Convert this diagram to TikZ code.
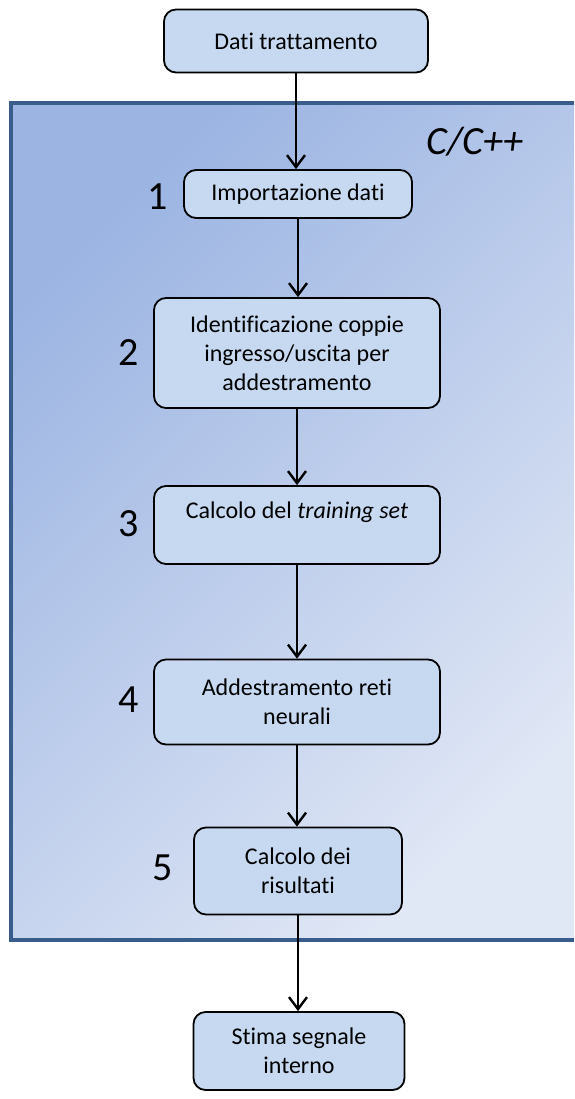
\documentclass[tikz,border=0pt]{standalone}
\usepackage{fontspec}
\setmainfont[Ligatures=NoCommon]{Carlito}
\usetikzlibrary{arrows.meta}

\definecolor{boxfill}{RGB}{198,217,241}
\definecolor{panelborder}{RGB}{56,93,138}
\definecolor{paneldark}{RGB}{155,180,226}
\definecolor{panellight}{RGB}{224,231,245}

\tikzset{
  fase/.style={draw=black, line width=1.8pt, rounded corners=12pt, fill=boxfill,
               align=center, inner sep=0pt, font=\fontsize{24}{29}\selectfont},
  numfase/.style={font=\fontsize{40}{42}\selectfont},
  flusso/.style={->, line width=2.4pt,
                 >={Straight Barb[length=12pt,width=18pt,line width=2.4pt]}},
}

\begin{document}
\begin{tikzpicture}[x=1pt,y=-1pt]
\useasboundingbox (0,0) rectangle (574,1099);

% C/C++ panel, open on the right
\fill[top color=paneldark, bottom color=panellight, shading angle=45]
    (11,103) rectangle (574,940);
\draw[panelborder, line width=4pt]
    (574,103) -- (11,103) -- (11,940) -- (574,940);
\node [font=\fontsize{40}{42}\selectfont\itshape] (lang) at (475,142) {C/C++};

% phases
\node [fase, minimum width=264, minimum height=63] (dati)   at (296, 41) {Dati trattamento};
\node [fase, minimum width=228, minimum height=48] (import) at (298,194) {Importazione dati};
\node [fase, minimum width=286, minimum height=110] (coppie) at (297,353)
    {Identificazione coppie\\ingresso/uscita per\\addestramento};
\node [fase, minimum width=286, minimum height=78] (tset)   at (297,525)
    {Calcolo del \textit{training set}\\ \mbox{}};
\node [fase, minimum width=286, minimum height=85] (addestr) at (297,702) {Addestramento reti\\neurali};
\node [fase, minimum width=208, minimum height=87] (risult) at (298,871) {Calcolo dei\\risultati};
\node [fase, minimum width=211, minimum height=78] (stima)  at (299,1051) {Stima segnale\\interno};

% phase numbers
\node [numfase] (n1) at (158,197) {1};
\node [numfase] (n2) at (129,353) {2};
\node [numfase] (n3) at (129,524) {3};
\node [numfase] (n4) at (129,700) {4};
\node [numfase] (n5) at (163,868) {5};

% flow
\draw [flusso] (dati)    -- (dati    |- import.north);
\draw [flusso] (import)  -- (import  |- coppie.north);
\draw [flusso] (coppie)  -- (coppie  |- tset.north);
\draw [flusso] (tset)    -- (tset    |- addestr.north);
\draw [flusso] (addestr) -- (addestr |- risult.north);
\draw [flusso] (risult)  -- (risult  |- stima.north);
\end{tikzpicture}
\end{document}
